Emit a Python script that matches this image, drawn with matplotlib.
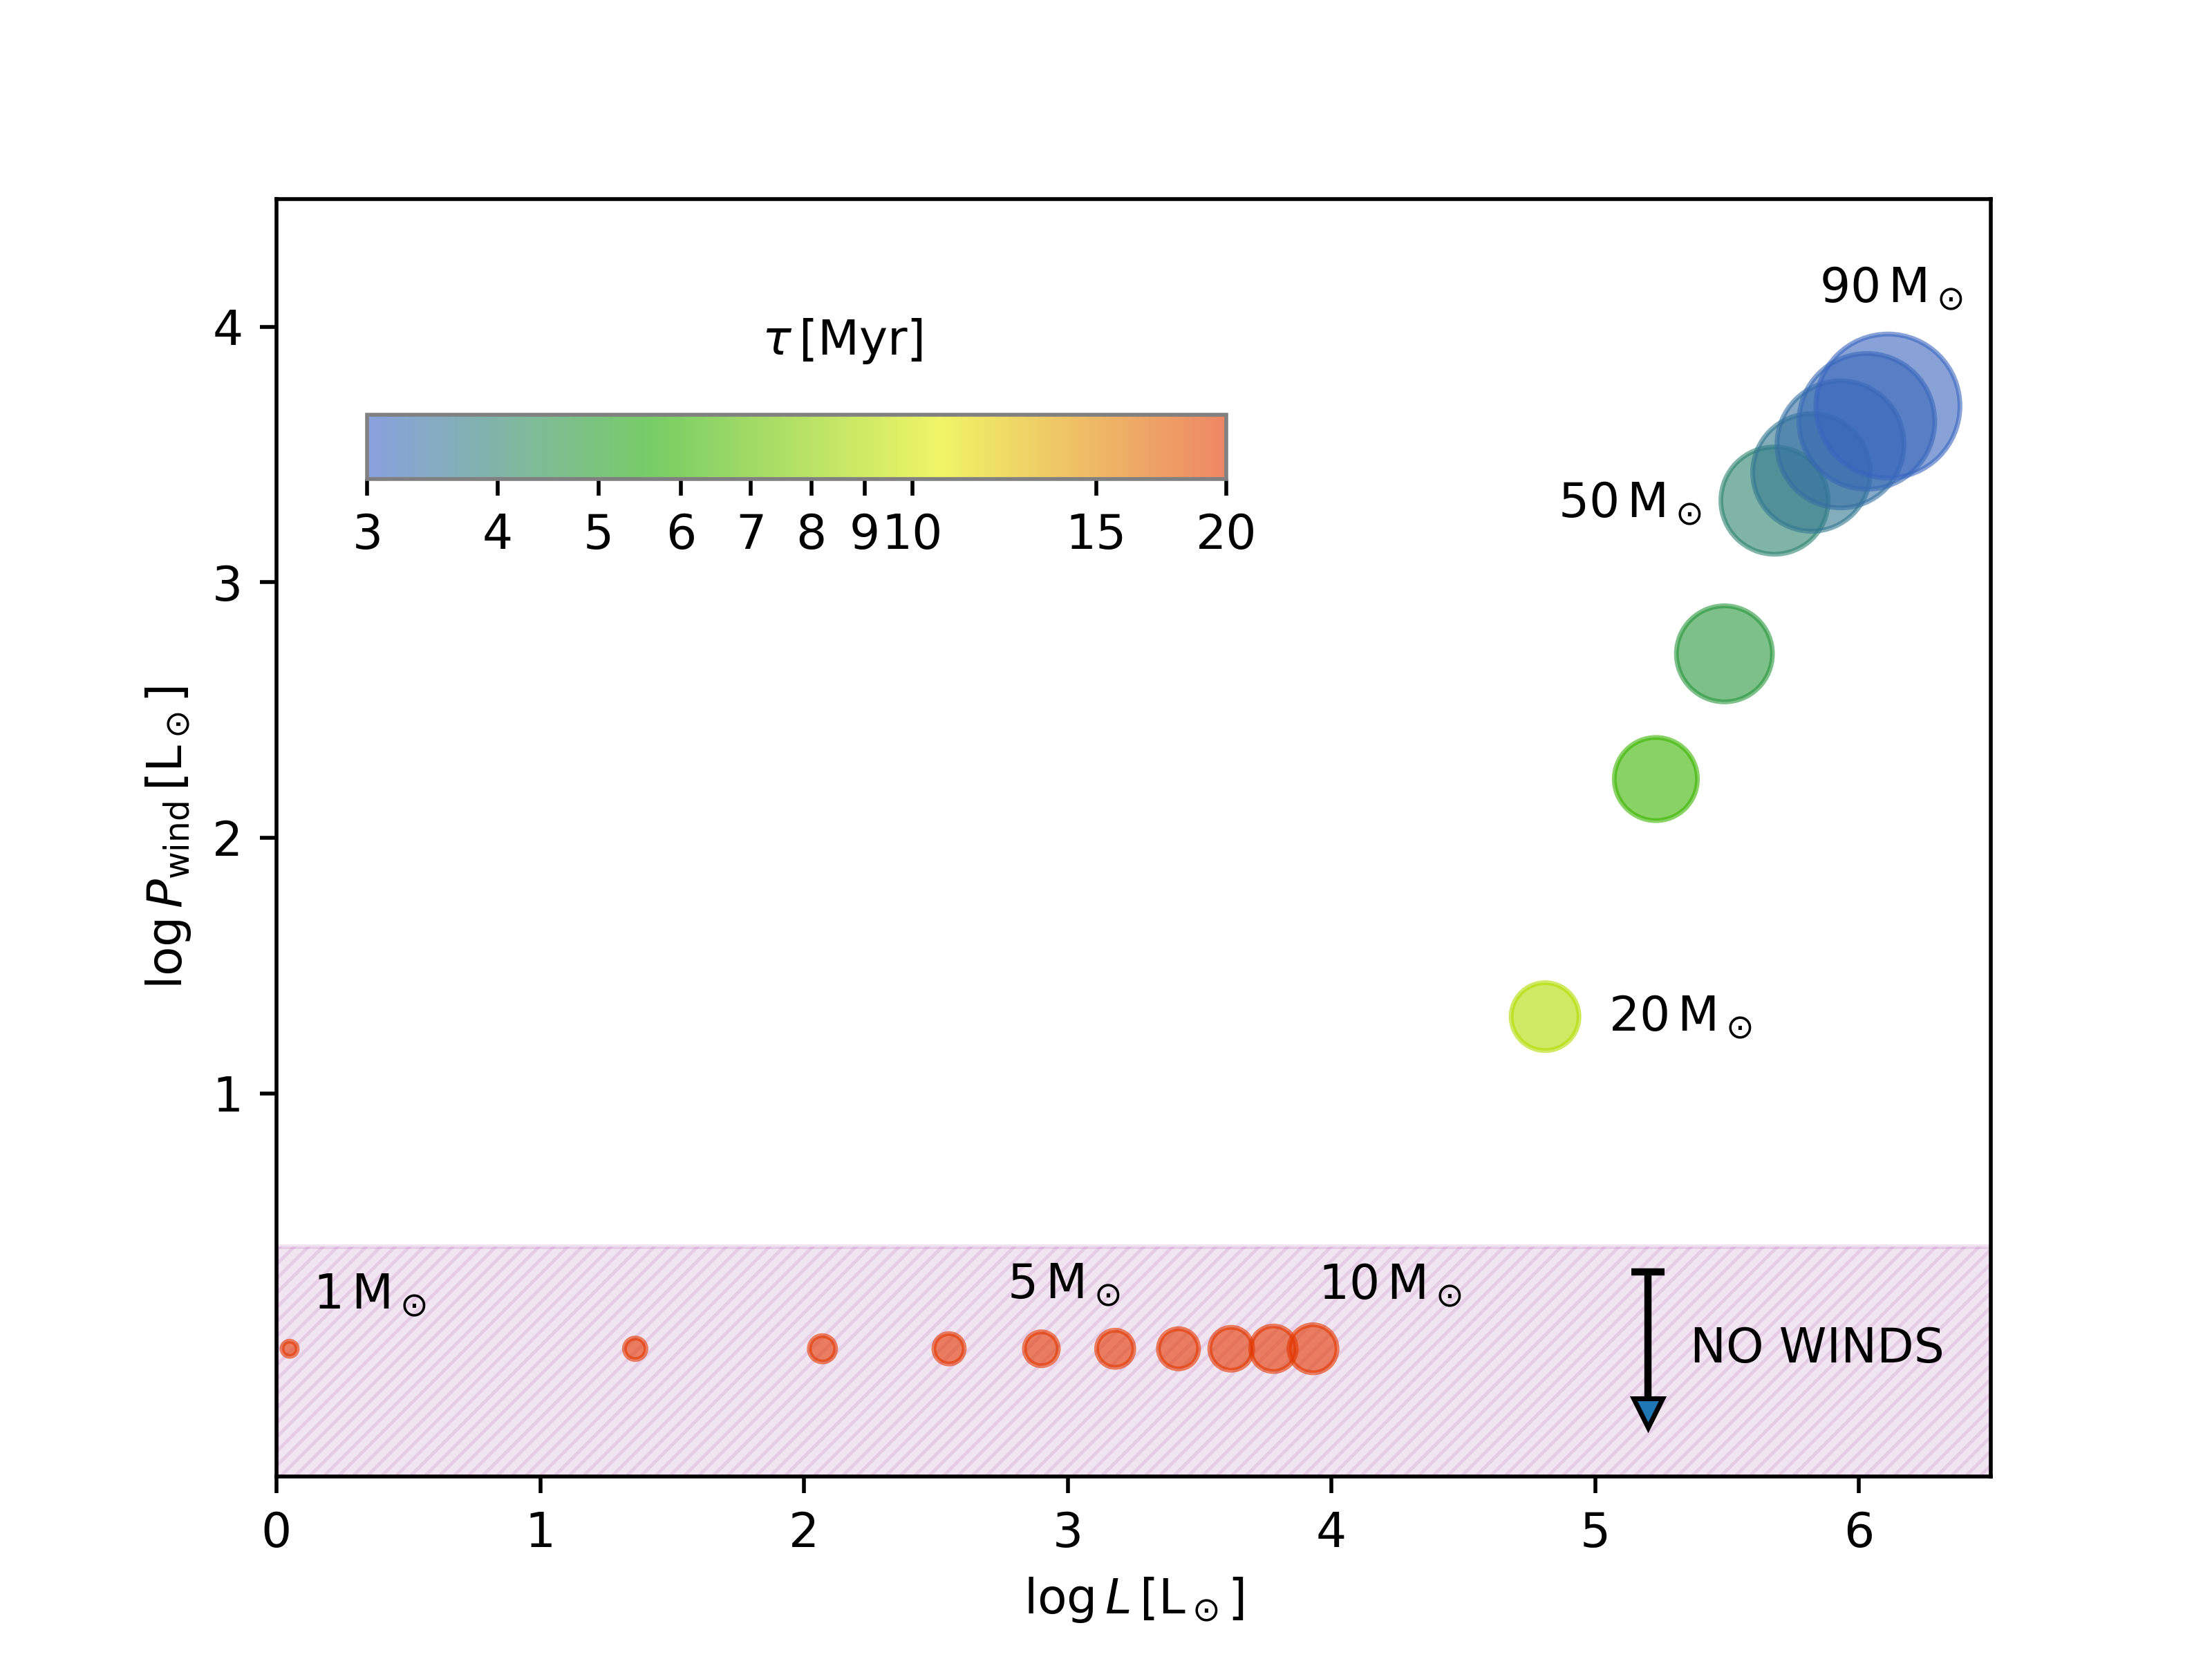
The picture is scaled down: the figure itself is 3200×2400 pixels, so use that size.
import numpy as np
import matplotlib
matplotlib.use("Agg")
import matplotlib.pyplot as plt
from matplotlib.colors import LinearSegmentedColormap, LogNorm
from matplotlib.ticker import NullLocator

# stellar models: mass [Msun], log L [Lsun], log P_wind [Lsun], lifetime [Myr]
mass = [1, 2, 3, 4, 5, 6, 7, 8, 9, 10, 20, 30, 40, 50, 60, 70, 80, 90]
log_L = [0.05, 1.36, 2.07, 2.55, 2.90, 3.18, 3.42, 3.62, 3.78, 3.93,
         4.81, 5.23, 5.49, 5.68, 5.82, 5.93, 6.03, 6.11]
log_Pwind = [0.0, 0.0, 0.0, 0.0, 0.0, 0.0, 0.0, 0.0, 0.0, 0.0,
             1.30, 2.23, 2.72, 3.32, 3.43, 3.54, 3.63, 3.69]
tau = [10000, 1200, 400, 170, 100, 65, 45, 35, 28, 23,
       9.0, 6.2, 4.7, 4.0, 3.6, 3.4, 3.2, 3.1]

cbar_ticks = [3, 4, 5, 6, 7, 8, 9, 10, 15, 20]

# labels: (text, x, y)
mass_labels = [
    (r'$1\,\mathrm{M}_\odot$', 0.14, 0.21),
    (r'$5\,\mathrm{M}_\odot$', 2.77, 0.25),
    (r'$10\,\mathrm{M}_\odot$', 3.95, 0.25),
    (r'$20\,\mathrm{M}_\odot$', 5.05, 1.30),
    (r'$50\,\mathrm{M}_\odot$', 4.86, 3.31),
    (r'$90\,\mathrm{M}_\odot$', 5.85, 4.15),
]

# no-wind upper limit arrow
limit_x, limit_y, limit_len = 5.2, 0.3, 0.55

plt.rcParams['hatch.linewidth'] = 0.7

cmap = LinearSegmentedColormap.from_list(
    'tau', ['#3a62c8', '#1eac00', '#e6ee00', '#e33700'])
norm = LogNorm(vmin=3, vmax=20)

fig, ax = plt.subplots(figsize=(6.4, 4.8), dpi=500)

ax.axhspan(-0.5, 0.4, color='purple', alpha=0.1, hatch='////////', zorder=0)

sizes = 10 * np.array(mass)
sc = ax.scatter(log_L, log_Pwind, s=sizes, c=tau, cmap=cmap, norm=norm,
                alpha=0.6, zorder=2)

for txt, x, y in mass_labels:
    ax.text(x, y, txt, ha='left', va='center', fontsize=10)

eb = ax.errorbar(limit_x, limit_y, yerr=limit_len, uplims=True, capsize=3.5,
                 capthick=1.5, ecolor='k', fmt='none', zorder=3)
for cl in eb[1]:
    if cl.get_marker() != '_':
        cl.set_marker('v')
        cl.set_markersize(6)
        cl.set_markerfacecolor('C0')
        cl.set_markeredgecolor('k')
        cl.set_markeredgewidth(1.0)
ax.text(5.36, 0.0, 'NO WINDS', ha='left', va='center', fontsize=10)

ax.set_xlim(0, 6.5)
ax.set_ylim(-0.5, 4.5)
ax.set_yticks([1, 2, 3, 4])
ax.set_xlabel(r'$\log L\,[\mathrm{L}_\odot]$')
ax.set_ylabel(r'$\log P_\mathrm{wind}\,[\mathrm{L}_\odot]$')

# inset colorbar
cax = ax.inset_axes([0.053, 0.781, 0.501, 0.05])
cbar = fig.colorbar(sc, cax=cax, orientation='horizontal')
cbar.set_ticks(cbar_ticks)
cbar.set_ticklabels([str(t) for t in cbar_ticks])
cax.xaxis.set_minor_locator(NullLocator())
cbar.outline.set_edgecolor('gray')
cax.text(0.553, 2.16, r'$\tau\,[\mathrm{Myr}]$', transform=cax.transAxes,
         ha='center', va='center', fontsize=10)

fig.savefig('out.png', dpi=500)
